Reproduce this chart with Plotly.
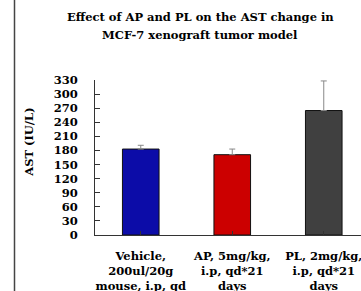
import plotly.graph_objects as go

categories = ["Vehicle,<br>200ul/20g<br>mouse, i.p, qd",
              "AP, 5mg/kg,<br>i.p, qd*21<br>days",
              "PL, 2mg/kg,<br>i.p, qd*21<br>days"]
ast_values = [183, 171, 265]
ast_errors = [8, 12, 63]
bar_colors = ["#0C0CA8", "#CC0000", "#404040"]
y_ticks = list(range(0, 331, 30))
title_lines = ["Effect of AP and PL on the AST change in", "MCF-7 xenograft tumor model"]

FONT = "DejaVu Serif, serif"

fig = go.Figure()
fig.add_trace(go.Bar(
    x=[0, 1, 2], y=ast_values,
    marker=dict(color=bar_colors, line=dict(color="#111111", width=1)),
    error_y=dict(type="data", array=ast_errors, symmetric=False, arrayminus=[0, 0, 0],
                 color="#888888", thickness=1, width=3),
    width=0.4,
))

fig.update_layout(
    width=361, height=291,
    margin=dict(l=95, r=0, t=80, b=56),
    paper_bgcolor="white", plot_bgcolor="white",
    showlegend=False,
    font=dict(family=FONT, color="black"),
    xaxis=dict(range=[-0.5, 2.407], tickmode="array", tickvals=[0, 1, 2], ticktext=categories,
               tickangle=0, tickson="boundaries", ticks="inside", ticklen=4, tickcolor="#333333",
               showline=True, linecolor="#333333", linewidth=1, showgrid=False, zeroline=False,
               automargin=False, ticklabeloverflow="allow", ticklabelstandoff=10,
               tickfont=dict(family=FONT, size=11.5, color="black", weight="bold")),
    yaxis=dict(range=[0, 330], tickmode="array", tickvals=y_ticks,
               ticks="inside", ticklen=5, tickcolor="#333333", ticklabelstandoff=14,
               showline=True, linecolor="#333333", linewidth=1, showgrid=False, zeroline=False,
               automargin=False,
               tickfont=dict(family=FONT, size=11.5, color="black", weight="bold")),
)

for line, ypx in zip(title_lines, [17, 35]):
    fig.add_annotation(text="<b>" + line + "</b>",
                       xref="paper", yref="paper", x=(200 - 95) / 266, y=(235.5 - ypx) / 155.5,
                       xanchor="center", yanchor="middle", showarrow=False,
                       font=dict(family=FONT, size=11.5, color="black"))
fig.add_annotation(text="<b>AST (IU/L)</b>", textangle=-90,
                   xref="paper", yref="paper", x=(29 - 95) / 266, y=(235.5 - 143) / 155.5,
                   xanchor="center", yanchor="middle", showarrow=False,
                   font=dict(family=FONT, size=11.5, color="black"))
fig.add_shape(type="line", xref="paper", yref="paper",
              x0=(14.5 - 95) / 266, x1=(14.5 - 95) / 266, y0=-1, y1=2,
              line=dict(color="#444444", width=1.5))

fig.write_html("out.html", config={"displayModeBar": False},
               post_script="document.body.style.margin='0';document.body.style.overflow='hidden';")
